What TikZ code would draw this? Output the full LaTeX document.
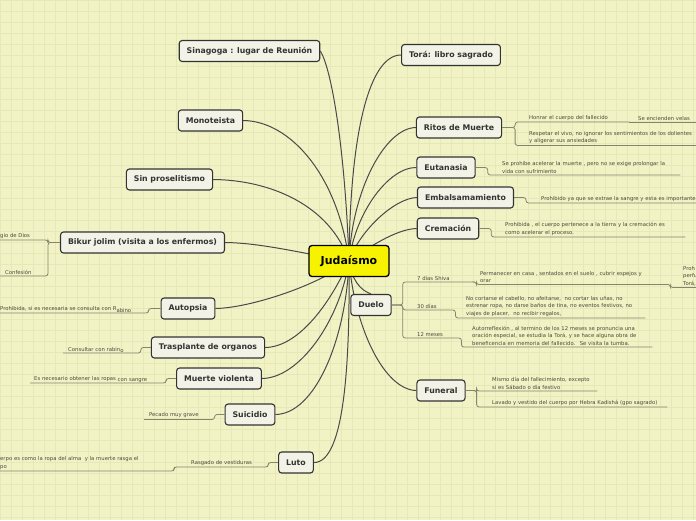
\documentclass[tikz,border=0pt]{standalone}
\usepackage{fontspec}
\setmainfont{DejaVu Sans}
\usetikzlibrary{backgrounds}
\definecolor{fondo}{HTML}{F1F3C5}
\definecolor{rejilla}{HTML}{E5E9B9}
\definecolor{caja}{HTML}{F3F2E6}
\definecolor{borde}{HTML}{333333}
\definecolor{gris}{HTML}{4A4A4A}
\definecolor{hilogris}{HTML}{85856E}
\definecolor{texto}{HTML}{4A4A3C}
\definecolor{amarillo}{HTML}{F7F200}

\begin{document}
\begin{tikzpicture}[
    x=1pt, y=-1pt,
    tema/.style={draw=borde, line width=1.1pt, rounded corners=3pt, fill=caja, font=\fontsize{7.8}{9}\selectfont\bfseries, text=black!80, inner xsep=7.5pt, minimum height=21pt},
    raiz/.style={draw=black, line width=1.3pt, rounded corners=3pt, fill=amarillo, font=\fontsize{11}{12}\selectfont\bfseries, minimum width=80pt, minimum height=31pt},
    hoja/.style={font=\fontsize{5.3}{7.3}\selectfont, text=texto, align=left, inner xsep=0pt, inner ysep=1.6pt, anchor=south west},
    rama/.style={draw=gris, line width=1pt},
    hilo/.style={draw=hilogris, line width=0.8pt, rounded corners=2.5pt}
]
    \clip (0,0) rectangle (696,520);
    \begin{scope}[on background layer]
        \fill[fondo] (0,0) rectangle (696,520);
        \foreach \k in {0,11,...,700} \draw[rejilla, line width=0.5pt] (\k,0) -- (\k,520);
        \foreach \k in {0,11,...,520} \draw[rejilla, line width=0.5pt] (0,\k) -- (696,\k);
    \end{scope}

    \node[raiz] (jud) at (349,261) {Judaísmo};

    \node[tema] (sina)  at (249.5,51)  {Sinagoga : lugar de Reunión};
    \node[tema] (tora)  at (451,55)    {Torá: libro sagrado};
    \node[tema] (mono)  at (210.5,120.5) {Monoteista};
    \node[tema] (ritos) at (459,127.5) {Ritos de Muerte};
    \node[tema] (sinp)  at (169.5,179.5) {Sin proselitismo};
    \node[tema] (euta)  at (446,167.5) {Eutanasia};
    \node[tema] (embal) at (465.5,197.5) {Embalsamamiento};
    \node[tema] (crem)  at (448,228.5) {Cremación};
    \node[tema] (bikur) at (142.5,242.5) {Bikur jolim (visita a los enfermos)};
    \node[tema] (duelo) at (371,305)   {Duelo};
    \node[tema] (auto)  at (188,308.5) {Autopsia};
    \node[tema] (tras)  at (208,347.5) {Trasplante de organos};
    \node[tema] (muer)  at (219,378.5) {Muerte violenta};
    \node[tema] (fune)  at (441,390.5) {Funeral};
    \node[tema] (suic)  at (250,414.5) {Suicidio};
    \node[tema] (luto)  at (296,462.5) {Luto};

    % Ramas principales
    \begin{scope}[on background layer]
        \draw[rama] (jud.center) .. controls (345,150) and (332,70) .. (sina.east);
        \draw[rama] (jud.center) .. controls (350,130) and (370,55) .. (tora.west);
        \draw[rama] (jud.center) .. controls (338,175) and (290,121) .. (mono.east);
        \draw[rama] (jud.center) .. controls (352,190) and (385,128) .. (ritos.west);
        \draw[rama] (jud.center) .. controls (330,205) and (270,180) .. (sinp.east);
        \draw[rama] (jud.center) .. controls (356,210) and (390,167) .. (euta.west);
        \draw[rama] (jud.center) .. controls (360,230) and (395,198) .. (embal.west);
        \draw[rama] (jud.center) .. controls (365,250) and (395,229) .. (crem.west);
        \draw[rama] (jud.center) .. controls (300,253) and (262,243) .. (bikur.east);
        \draw[rama] (jud.center) .. controls (352,280) and (360,290) .. (duelo.north);
        \draw[rama] (jud.center) .. controls (320,285) and (250,308) .. (auto.east);
        \draw[rama] (jud.center) .. controls (332,300) and (300,347) .. (tras.east);
        \draw[rama] (jud.center) .. controls (340,320) and (300,378) .. (muer.east);
        \draw[rama] (jud.center) .. controls (346,340) and (315,414) .. (suic.east);
        \draw[rama] (jud.center) .. controls (350,360) and (345,463) .. (luto.east);
        \draw[rama] (jud.center) .. controls (355,330) and (385,390) .. (fune.west);
    \end{scope}

    % Ritos de Muerte
    \node[hoja, text width=100pt] (honrar) at (529,122) {Honrar el cuerpo del fallecido};
    \node[hoja, text width=60pt] (velas) at (638,122) {Se encienden velas};
    \node[hoja, text width=190pt] (respetar) at (529,145.5) {Respetar el vivo, no ignorar los sentimientos de los dolientes\\y aligerar sus ansiedades};
    \draw[hilo] (ritos.east) -- ++(13,0) |- (honrar.south east);
    \draw[hilo] (ritos.east) -- ++(13,0) |- (respetar.south east);
    \draw[hilo] (honrar.south east) -- (velas.south east);

    % Eutanasia, Embalsamamiento, Cremacion
    \node[hoja, text width=178pt] (eutl) at (502,175) {Se prohibe acelerar la muerte , pero no se exige prolongar la\\vida con sufrimiento};
    \draw[hilo] (euta.east) -- ++(12,0) |- (eutl.south east);
    \node[hoja, text width=190pt] (embl) at (541,203) {Prohibido ya que se extrae la sangre y esta es importante};
    \draw[hilo] (embal.east) -- ++(12,0) |- (embl.south east);
    \node[hoja, text width=180pt] (creml) at (505,237) {Prohibida , el cuerpo pertenece a la tierra y la cremación es\\como acelerar el proceso.};
    \draw[hilo] (crem.east) -- ++(12,0) |- (creml.south east);

    % Duelo
    \node[hoja, text width=57pt] (shiva) at (417,282) {7 días Shiva};
    \node[hoja, text width=188pt] (perm) at (480,284.5) {Permanecer en casa , sentados en el suelo , cubrir espejos y\\orar};
    \node[hoja, text width=20pt] (proh) at (683,287.5) {Proh\\perfu\\Torá,};
    \node[hoja, text width=35pt] (treinta) at (417,310) {30 días};
    \node[hoja, text width=179pt] (nocort) at (466,318) {No cortarse el cabello, no afeitarse,~ no cortar las uñas, no\\estrenar ropa, no darse baños de tina, no eventos festivos, no\\viajes de placer,~ no recibir regalos,};
    \node[hoja, text width=41pt] (doce) at (417,338) {12 meses};
    \node[hoja, text width=180pt] (autorr) at (472,347) {Autorreflexión , al termino de los 12 meses se pronuncia una\\oración especial, se estudia la Torá, y se hace alguna obra de\\beneficencia en memoria del fallecido.~ Se visita la tumba.};
    \draw[hilo] (duelo.east) -- ++(11,0) |- (shiva.south east);
    \draw[hilo] (duelo.east) -- ++(11,0) |- (treinta.south east);
    \draw[hilo] (duelo.east) -- ++(11,0) |- (doce.south east);
    \draw[hilo] (shiva.south east) -- ++(2,0) |- (perm.south east);
    \draw[hilo] (perm.south east) -- ++(2,0) |- (proh.south east);
    \draw[hilo] (treinta.south east) -- ++(3,0) |- (nocort.south east);
    \draw[hilo] (doce.south east) -- ++(3,0) |- (autorr.south east);

    % Funeral
    \node[hoja, text width=105pt] (mismo) at (492,391) {Mismo día del fallecimiento, excepto\\si es Sábado o día festivo};
    \node[hoja, text width=175pt] (lavado) at (492,407) {Lavado y vestido del cuerpo por Hebra Kadishá (gpo sagrado)};
    \draw[hilo] (fune.east) -- ++(11,0) |- (mismo.south east);
    \draw[hilo] (fune.east) -- ++(11,0) |- (lavado.south east);

    % Bikur jolim
    \node[hoja, text width=34pt] (dios) at (0,240) {gio de Dios};
    \node[hoja, text width=34pt] (conf) at (5,276) {Confesión};
    \draw[hilo] (bikur.west) -- ++(-12,0) |- (dios.south west);
    \draw[hilo] (bikur.west) -- ++(-12,0) |- (conf.south west) -- ++(-5,0);

    % Autopsia, Trasplante, Muerte violenta, Suicidio
    \node[hoja, text width=140pt] (autl) at (0,313) {Prohibida, si es necesaria se consulta con R\raisebox{-1.5pt}[0pt][0pt]{abino}};
    \draw[hilo] (auto.west) -- ++(-12,0) |- (autl.south west);
    \node[hoja, text width=70pt] (trasl) at (68,353) {Consultar con rabin\raisebox{-1.5pt}[0pt][0pt]{o}};
    \draw[hilo] (tras.west) -- ++(-10,0) |- (trasl.south west) -- ++(-5,0);
    \node[hoja, text width=125pt] (muerl) at (34,383) {Es necesario obtener las ropas \raisebox{-1pt}[0pt][0pt]{con sangre}};
    \draw[hilo] (muer.west) -- ++(-10,0) |- (muerl.south west) -- ++(-4,0);
    \node[hoja, text width=60pt] (suicl) at (149,419.5) {Pecado muy grave};
    \draw[hilo] (suic.west) -- ++(-10,0) |- (suicl.south west) -- ++(-5,0);

    % Luto
    \node[hoja, text width=70pt] (rasg) at (191,467) {Rasgado de vestiduras};
    \node[hoja, text width=170pt] (ropa) at (0,471) {erpo es como la ropa del alma~ y la muerte rasga el\\po};
    \draw[hilo] (luto.west) -- ++(-10,0) |- (rasg.south west) -- ++(-14,0);
    \draw[hilo] (rasg.south west) ++(-14,0) -- ++(-3,0) |- (ropa.south west);
\end{tikzpicture}
\end{document}
